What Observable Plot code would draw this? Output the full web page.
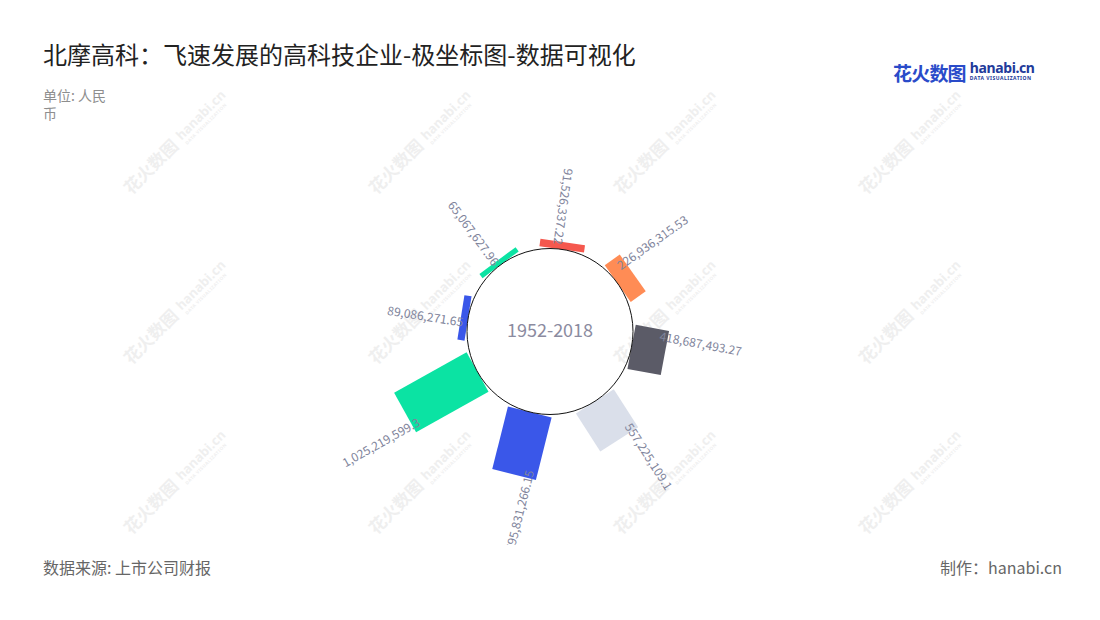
<!DOCTYPE html>
<html>
<head>
<meta charset="utf-8">
<script src="https://cdn.jsdelivr.net/npm/d3@7"></script>
<script src="https://cdn.jsdelivr.net/npm/@observablehq/plot@0.6"></script>
<style>
  html, body { margin: 0; padding: 0; background: #fff; }
  body { font-family: "Noto Sans CJK SC", "Noto Sans", sans-serif; }
  #wrap { position: relative; width: 1100px; height: 620px; overflow: hidden; background: #fff; }
  #wm { position: absolute; left: 0; top: 0; z-index: 0; }
  #chart { position: absolute; left: 0; top: 0; z-index: 1; }
  .title { position: absolute; left: 43px; top: 36px; font-size: 24px; color: #222; white-space: nowrap; z-index: 2; }
  .subtitle { position: absolute; left: 43px; top: 86px; width: 68px; font-size: 14px; line-height: 18px; color: #8e8e8e; z-index: 2; }
  .source { position: absolute; left: 43px; top: 555px; font-size: 16px; color: #666; z-index: 2; }
  .maker { position: absolute; right: 38px; top: 555px; font-size: 16px; color: #666; z-index: 2; }
  .logo { position: absolute; left: 893px; top: 59px; z-index: 2; white-space: nowrap; }
  .logo .cn { font-size: 19px; font-weight: 700; color: #2a4bc9; letter-spacing: -0.8px; vertical-align: top; }
  .logo .en { display: inline-block; margin-left: 4px; vertical-align: top; line-height: 1; }
  .logo .en .h { font-family: "Noto Sans", sans-serif; font-size: 14px; font-weight: 700; color: #223a9a; letter-spacing: -0.4px; display: block; margin-top: 2px; }
  .logo .en .s { font-family: "Noto Sans", sans-serif; font-size: 5px; font-weight: 700; color: #223a9a; letter-spacing: 0.5px; display: block; margin-top: 1px; }
</style>
</head>
<body>
<div id="wrap">
  <svg id="wm" width="1100" height="620"></svg>
  <div id="chart"></div>
  <div class="title">北摩高科：飞速发展的高科技企业-极坐标图-数据可视化</div>
  <div class="subtitle">单位: 人民币</div>
  <div class="logo"><span class="cn">花火数图</span><span class="en"><span class="h">hanabi.cn</span><span class="s">DATA VISUALIZATION</span></span></div>
  <div class="source">数据来源: 上市公司财报</div>
  <div class="maker">制作：hanabi.cn</div>
</div>
<script>
// ---- data ----
const categories = ["A", "B", "C", "D", "E", "F", "G", "H"];
const values = [91526337.22, 226936315.53, 418687493.27, 557225109.1, 795831266.15, 1025219599.3, 89086271.65, 65067627.96];
const angles = [8.1, 54.7, 100.6, 147.3, 194.1, 240.8, 279.0, 323.5]; // degrees, clockwise from top
const colors = ["#f5584e", "#ff8c55", "#5b5b67", "#dadfea", "#3a57e9", "#0be3a3", "#3a57e9", "#0be3a3"];
const centerLabel = "1952-2018";

// ---- layout constants ----
const W = 1100, H = 545;
const CX = 549.5, CY = 331;   // pixel position of the polar centre
const U = 1.235e7;            // yuan per pixel
const R0 = 83 * U;            // inner radius in data units (yuan)
const BAR_W = 45;

const data = categories.map((c, i) => ({cat: c, value: values[i], angle: angles[i], color: colors[i]}));
const rad = a => a * Math.PI / 180;
const px = (a, r) => r * Math.sin(rad(a));
const py = (a, r) => -r * Math.cos(rad(a));
const inward = a => a < 30 || a > 180;

function labelPos(d) {
  const r = R0 + d.value - Math.min(7 * U, 0.4 * d.value);
  const t = Math.min(15 * U, 0.7 * d.value);
  const a = d.angle - (t / r) * 180 / Math.PI;
  return {x: px(a, r), y: py(a, r)};
}
const labels = data.map(d => ({...d, ...labelPos(d), text: d3.format(",")(d.value), inward: inward(d.angle),
  rot: inward(d.angle) ? d.angle + 90 : d.angle - 90}));

const font = '"Noto Sans CJK SC", "Noto Sans", sans-serif';
const labelColor = "#80849b";

const chart = Plot.plot({
  width: W, height: H,
  margin: 0,
  style: {background: "transparent", overflow: "hidden", fontFamily: font},
  x: {domain: [-CX * U, (W - CX) * U], range: [0, W], axis: null},
  y: {domain: [-CY * U, (H - CY) * U], range: [0, H], axis: null},
  color: {type: "identity"},
  marks: [
    Plot.link(data, {
      x1: d => px(d.angle, R0), y1: d => py(d.angle, R0),
      x2: d => px(d.angle, R0 + d.value), y2: d => py(d.angle, R0 + d.value),
      stroke: "color", strokeWidth: BAR_W, strokeLinecap: "butt", strokeOpacity: 1
    }),
    Plot.dot([0], {x: 0, y: 0, r: 83, stroke: "#111", strokeWidth: 1, fill: "none"}),
    Plot.text([centerLabel], {x: 0, y: 0, text: d => d, fontSize: 18, fill: "#8b8ba0", fontFamily: font}),
    Plot.text(labels.filter(d => !d.inward), {x: "x", y: "y", text: "text", rotate: "rot", textAnchor: "start",
      fontSize: 12, fill: labelColor, fontFamily: font}),
    Plot.text(labels.filter(d => d.inward), {x: "x", y: "y", text: "text", rotate: "rot", textAnchor: "end",
      fontSize: 12, fill: labelColor, fontFamily: font})
  ]
});
document.getElementById("chart").appendChild(chart);

// ---- watermark (decoration) ----
const wm = d3.select("#wm");
const wmCols = [178, 423, 668, 913], wmRows = [140, 310, 480];
for (const cy of wmRows) for (const cx of wmCols) {
  const g = wm.append("g").attr("transform", `translate(${cx},${cy}) rotate(-45)`).attr("fill", "#efefef");
  g.append("text").attr("x", -4).attr("y", 6).attr("text-anchor", "end").attr("font-size", 17).attr("font-weight", 700)
    .attr("font-family", font).text("花火数图");
  g.append("text").attr("x", 2).attr("y", 3).attr("text-anchor", "start").attr("font-size", 13).attr("font-weight", 700)
    .attr("font-family", '"Noto Sans", sans-serif').text("hanabi.cn");
  g.append("text").attr("x", 3).attr("y", 10).attr("text-anchor", "start").attr("font-size", 4.5).attr("font-weight", 700)
    .attr("letter-spacing", 0.5).attr("font-family", '"Noto Sans", sans-serif').text("DATA VISUALIZATION");
}
</script>
</body>
</html>
